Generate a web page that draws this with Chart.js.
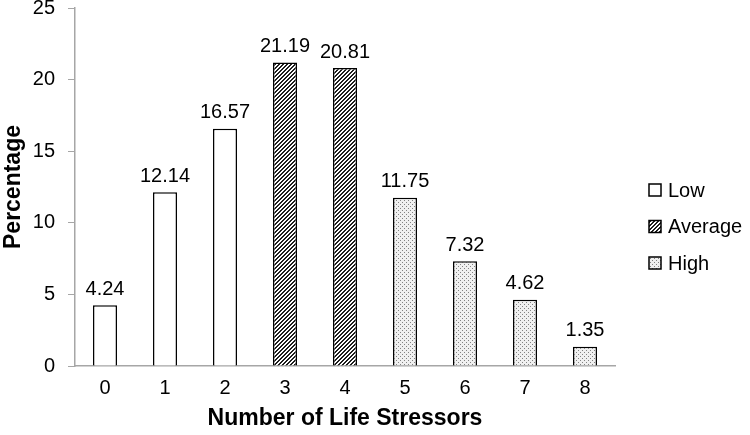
<!DOCTYPE html>
<html>
<head>
<meta charset="utf-8">
<script src="https://cdn.jsdelivr.net/npm/chart.js@4"></script>
<style>
  body { margin: 0; background: #fff; }
  #wrap { width: 750px; height: 435px; position: relative; }
</style>
</head>
<body>
<div id="wrap"><canvas id="stressChart"></canvas></div>
<script>
// categories and values
const categories = ["0", "1", "2", "3", "4", "5", "6", "7", "8"];
const lowValues = [4.24, 12.14, 16.57, null, null, null, null, null, null];
const averageValues = [null, null, null, 21.19, 20.81, null, null, null, null];
const highValues = [null, null, null, null, null, 11.75, 7.32, 4.62, 1.35];
const yTicks = [0, 5, 10, 15, 20, 25];

const FONT = "'Liberation Sans', Arial, sans-serif";

// small pixel tiles for the fills
function makeTile(size, paint) {
    const c = document.createElement("canvas");
    c.width = size; c.height = size;
    const g = c.getContext("2d");
    const img = g.createImageData(size, size);
    for (let y = 0; y < size; y++) {
        for (let x = 0; x < size; x++) {
            const v = paint(x, y);
            const i = (y * size + x) * 4;
            img.data[i] = v; img.data[i + 1] = v; img.data[i + 2] = v; img.data[i + 3] = 255;
        }
    }
    g.putImageData(img, 0, 0);
    return g.createPattern(c, "repeat");
}

// dark with white "/" stripes
const hatch = makeTile(4, (x, y) => ((x + y) % 4 < 2 ? 255 : 30));
// light grey dots
const dots = makeTile(4, (x, y) => ((x % 2 === 0 && y % 2 === 0 && (x + y) % 4 === 0) ? 130 : 240));

// numbers above the bars
const valueLabels = {
    id: "valueLabels",
    afterDatasetsDraw(chart) {
        const ctx = chart.ctx;
        ctx.save();
        ctx.font = "20px " + FONT;
        ctx.fillStyle = "#000";
        ctx.textAlign = "center";
        ctx.textBaseline = "bottom";
        chart.data.datasets.forEach((ds, di) => {
            const meta = chart.getDatasetMeta(di);
            meta.data.forEach((bar, i) => {
                const v = ds.data[i];
                if (v == null) return;
                ctx.fillText(v.toFixed(2), bar.x, bar.y - 6);
            });
        });
        ctx.restore();
    }
};

// legend on the right, drawn by hand so it sits where the original has it
const sideLegend = {
    id: "sideLegend",
    afterDraw(chart) {
        const ctx = chart.ctx;
        const area = chart.chartArea;
        const x = area.right + 34;
        let y = area.top + 182;
        ctx.save();
        ctx.font = "20px " + FONT;
        ctx.textBaseline = "middle";
        chart.data.datasets.forEach(ds => {
            ctx.fillStyle = ds.backgroundColor;
            ctx.fillRect(x, y - 6, 12, 12);
            ctx.lineWidth = 1.5;
            ctx.strokeStyle = "#000";
            ctx.strokeRect(x, y - 6, 12, 12);
            ctx.fillStyle = "#000";
            ctx.fillText(ds.label, x + 19, y + 1);
            y += 36.5;
        });
        ctx.restore();
    }
};

const ctx = document.getElementById("stressChart");
const chart = new Chart(ctx, {
    type: "bar",
    data: {
        labels: categories,
        datasets: [
            { label: "Low", data: lowValues, backgroundColor: "#ffffff" },
            { label: "Average", data: averageValues, backgroundColor: hatch },
            { label: "High", data: highValues, backgroundColor: dots }
        ]
    },
    options: {
        responsive: true,
        maintainAspectRatio: false,
        animation: false,
        layout: { padding: { top: 0, right: 135, bottom: 3, left: 0 } },
        datasets: {
            bar: {
                borderColor: "#000",
                borderWidth: 1.5,
                categoryPercentage: 0.4,
                barPercentage: 1
            }
        },
        plugins: {
            tooltip: { enabled: false },
            legend: { display: false }
        },
        scales: {
            x: {
                stacked: true,
                grid: { display: false },
                border: { color: "#a6a6a6", width: 1.5 },
                ticks: {
                    color: "#000",
                    padding: 2,
                    font: { family: FONT, size: 20 }
                },
                title: {
                    display: true,
                    text: "Number of Life Stressors",
                    color: "#000",
                    padding: { top: 4, bottom: 0 },
                    font: { family: FONT, size: 23, weight: "bold" }
                },
                afterFit: s => { s.height = 66; s.paddingLeft = 0; s.paddingRight = 0; }
            },
            y: {
                stacked: true,
                min: 0,
                max: 25,
                afterBuildTicks: axis => { axis.ticks = yTicks.map(v => ({ value: v })); },
                grid: { drawOnChartArea: false, tickLength: 7, color: "#a6a6a6" },
                border: { color: "#a6a6a6", width: 1.5 },
                ticks: {
                    color: "#000",
                    padding: 13,
                    font: { family: FONT, size: 20 }
                },
                title: {
                    display: true,
                    text: "Percentage",
                    color: "#000",
                    padding: { top: 0, bottom: 8 },
                    font: { family: FONT, size: 23, weight: "bold" }
                },
                afterFit: s => { s.width = 75; s.paddingTop = 8; s.paddingBottom = 0; }
            }
        }
    },
    plugins: [valueLabels, sideLegend]
});
</script>
</body>
</html>
